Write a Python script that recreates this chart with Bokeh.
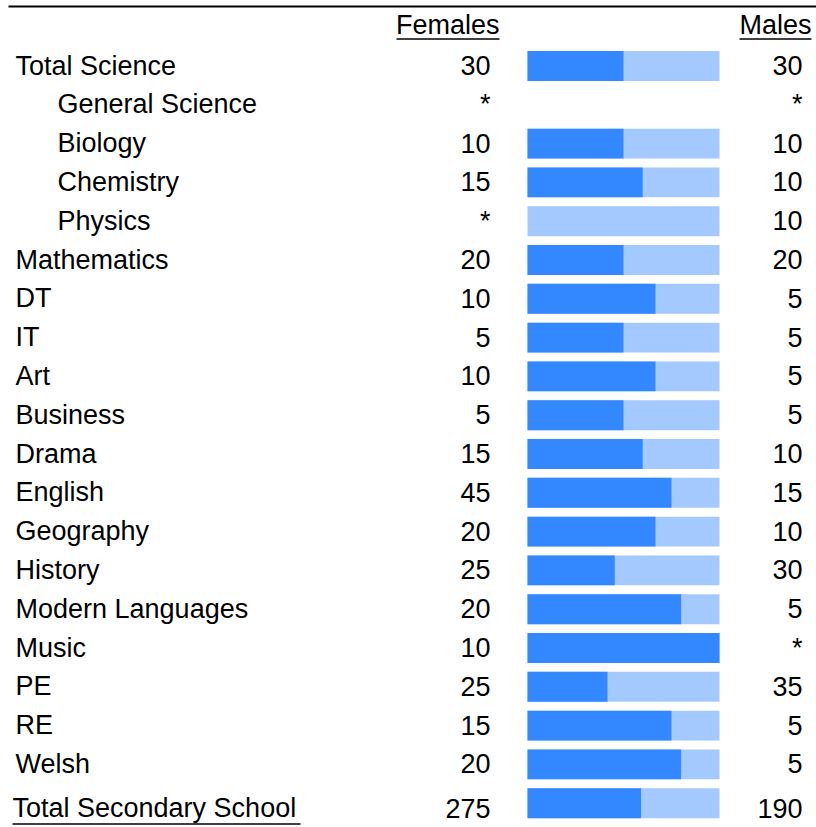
from bokeh.plotting import figure
from bokeh.models import Range1d, ColumnDataSource
from bokeh.core.properties import value
from bokeh.embed import file_html
from bokeh.resources import INLINE

# ---- data ----
subjects = ["Total Science", "General Science", "Biology", "Chemistry", "Physics",
            "Mathematics", "DT", "IT", "Art", "Business", "Drama", "English",
            "Geography", "History", "Modern Languages", "Music", "PE", "RE", "Welsh",
            "Total Secondary School"]
females = [30, None, 10, 15, None, 20, 10, 5, 10, 5, 15, 45, 20, 25, 20, 10, 25, 15, 20, 275]
males = [30, None, 10, 10, 10, 20, 5, 5, 5, 5, 10, 15, 10, 30, 5, None, 35, 5, 5, 190]
indented = [False, True, True, True, True] + [False] * 15
header_left = "Females"
header_right = "Males"

# ---- layout constants ----
W, H = 816, 827
Y0, DY = 65.5, 38.8
FONT = value("Liberation Sans")
FS = "27px"
DARK = "#3388ff"
LIGHT = "#a4c9ff"
BAR_L, BAR_R = 527, 719

p = figure(width=W, height=H, output_backend="svg", toolbar_location=None,
           x_range=Range1d(0, W), y_range=Range1d(H, 0),
           x_axis_type=None, y_axis_type=None, min_border=0,
           outline_line_color=None, background_fill_color="white")
p.grid.visible = False
scale = BAR_R - BAR_L
p.extra_x_ranges = {"share": Range1d(-BAR_L / scale, (W - BAR_L) / scale)}

n = len(subjects)
last = n - 1
ys, ytext, shares, has_bar, lx, ftxt, mtxt = [], [], [], [], [], [], []
for i in range(n):
    y = Y0 + i * DY
    ys.append(y)
    ytext.append(y + (5 if i == last else -0.5))
    f = females[i] or 0
    m = males[i] or 0
    tot = f + m
    shares.append(f / tot if tot else 0)
    has_bar.append(tot > 0)
    lx.append(57 if indented[i] else (12 if i == last else 15))
    ftxt.append("*" if females[i] is None else str(females[i]))
    mtxt.append("*" if males[i] is None else str(males[i]))

bar_src = ColumnDataSource(dict(
    y=[ys[i] for i in range(n) if has_bar[i]],
    share=[shares[i] for i in range(n) if has_bar[i]],
    zero=[0] * sum(has_bar),
    one=[1] * sum(has_bar),
))
bh = DY * 0.77
p.hbar(y="y", left="zero", right="one", height=bh, source=bar_src,
       fill_color=LIGHT, line_color=None, x_range_name="share")
p.hbar(y="y", left="zero", right="share", height=bh, source=bar_src,
       fill_color=DARK, line_color=None, x_range_name="share")

txt_src = ColumnDataSource(dict(y=ytext, lx=lx, label=subjects, f=ftxt, m=mtxt,
                                fx=[490] * n, mx=[802] * n))
p.text(x="lx", y="y", text="label", source=txt_src, text_font=FONT,
       text_font_size=FS, text_baseline="middle", text_align="left", text_color="black")
p.text(x="fx", y="y", text="f", source=txt_src, text_font=FONT,
       text_font_size=FS, text_baseline="middle", text_align="right", text_color="black")
p.text(x="mx", y="y", text="m", source=txt_src, text_font=FONT,
       text_font_size=FS, text_baseline="middle", text_align="right", text_color="black")

# headers
p.text(x=[499, 811], y=[24, 24], text=[header_left, header_right], text_font=FONT,
       text_font_size=FS, text_baseline="middle", text_align="right", text_color="black")
# underlines
p.segment(x0=[396, 739, 12], y0=[38.5, 38.5, 823.5], x1=[499, 811, 300], y1=[38.5, 38.5, 823.5],
          line_color="black", line_width=1.7)
# top rule
p.segment(x0=[8], y0=[6], x1=[W], y1=[6], line_color="black", line_width=2.2)

open("out.html", "w").write(file_html(p, INLINE))
